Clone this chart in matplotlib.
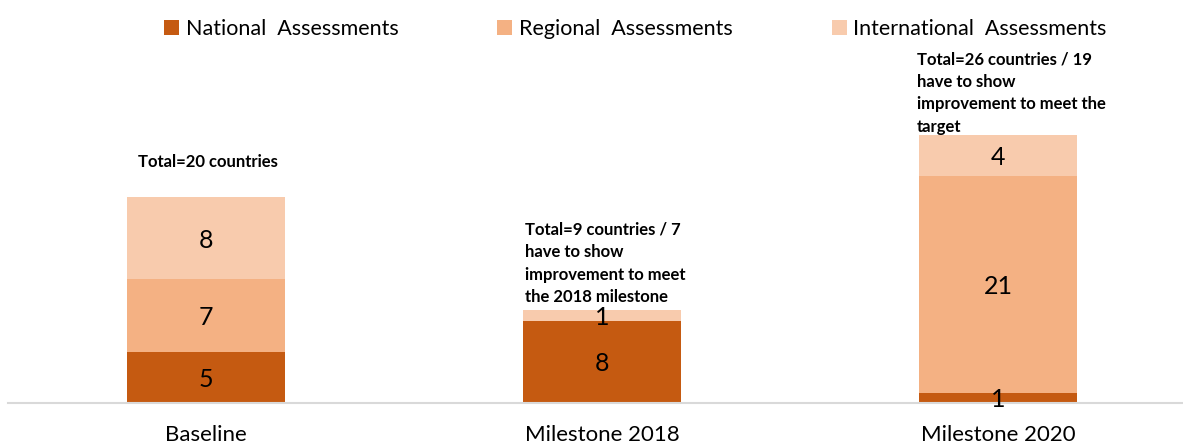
import matplotlib
matplotlib.use('Agg')
import matplotlib.pyplot as plt
import numpy as np

plt.rcParams['font.family'] = ['Lato', 'DejaVu Sans']

categories = ['Baseline', 'Milestone 2018', 'Milestone 2020']
national = [5, 8, 1]
regional = [7, 0, 21]
international = [8, 1, 4]
notes = ['Total=20 countries',
         'Total=9 countries / 7\nhave to show\nimprovement to meet\nthe 2018 milestone',
         'Total=26 countries / 19\nhave to show\nimprovement to meet the\ntarget']

c_nat = '#C55A11'
c_reg = '#F4B183'
c_int = '#F8CBAD'

fig = plt.figure(figsize=(11.83, 4.43), dpi=100)
ax = fig.add_axes([8 / 1183, 40 / 443, 1175 / 1183, 363 / 443])

x = np.arange(len(categories))
w = 0.4
nat = np.array(national)
reg = np.array(regional)
intl = np.array(international)

b1 = ax.bar(x, nat, w, color=c_nat, label='National  Assessments')
b2 = ax.bar(x, reg, w, bottom=nat, color=c_reg, label='Regional  Assessments')
b3 = ax.bar(x, intl, w, bottom=nat + reg, color=c_int, label='International  Assessments')

for bars, vals, bottoms in [(b1, nat, np.zeros(3)), (b2, reg, nat), (b3, intl, nat + reg)]:
    for i, v in enumerate(vals):
        if v > 0:
            ax.text(x[i], bottoms[i] + v / 2 - 0.2, str(v), ha='center', va='center',
                    fontsize=18, color='black')

totals = nat + reg + intl
ax.text(x[0] + 0.005, totals[0] + 3.4, notes[0], ha='center', va='center',
        fontsize=12, fontweight='bold')
ax.text(x[1] - 0.195, totals[1] + 0.5, notes[1], ha='left', va='bottom',
        fontsize=12, fontweight='bold', linespacing=1.5)
ax.text(x[2] - 0.205, totals[2] + 0.05, notes[2], ha='left', va='bottom',
        fontsize=12, fontweight='bold', linespacing=1.5)

ax.set_xlim(-0.5, 1175 / 396 - 0.5)
ax.set_ylim(0, 363 / 10.3)
ax.set_xticks(x)
ax.set_xticklabels(categories, fontsize=16)
ax.tick_params(axis='x', length=0, pad=16)
ax.set_yticks([])
for s in ['top', 'right', 'left']:
    ax.spines[s].set_visible(False)
ax.spines['bottom'].set_color('#D9D9D9')
ax.spines['bottom'].set_linewidth(1.5)

fig.legend(handles=[b1, b2, b3], loc='upper center', bbox_to_anchor=(0.537, 1.0),
           ncol=3, frameon=False, fontsize=15.5, handlelength=0.7, handleheight=0.7,
           handletextpad=0.3, columnspacing=4.6)

fig.savefig('out.png', dpi=100)
